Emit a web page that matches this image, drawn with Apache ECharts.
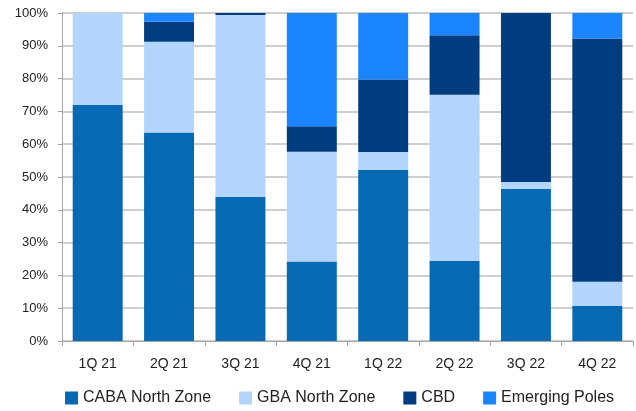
<!DOCTYPE html>
<html>
<head>
    <meta charset="utf-8">
    <script src="https://cdn.jsdelivr.net/npm/echarts@6/dist/echarts.min.js"></script>
    <style>
        html, body { margin: 0; padding: 0; background: #fff; }
        #chart { width: 636px; height: 411px; }
    </style>
</head>
<body>
<div id="chart"></div>
<script type="text/javascript">
    // categories
    var quarters = ['1Q 21', '2Q 21', '3Q 21', '4Q 21', '1Q 22', '2Q 22', '3Q 22', '4Q 22'];

    // shares (%) per segment
    var cabaNorth = [72.0, 63.6, 44.0, 24.2, 52.1, 24.4, 46.4, 10.7];
    var gbaNorth = [28.0, 27.6, 55.4, 33.5, 5.5, 50.7, 2.1, 7.4];
    var cbd = [0, 6.1, 0.6, 7.8, 22.1, 18.1, 51.5, 74.1];
    var emergingPoles = [0, 2.7, 0, 34.5, 20.3, 6.8, 0, 7.8];

    var yTicks = [0, 10, 20, 30, 40, 50, 60, 70, 80, 90, 100];

    var fontName = 'Liberation Sans';

    function makeSeries(name, data, color) {
        return {
            name: name,
            type: 'bar',
            stack: 'total',
            data: data,
            barCategoryGap: '30%',
            itemStyle: { color: color },
            emphasis: { disabled: true }
        };
    }

    var chart = echarts.init(document.getElementById('chart'));
    var option = {
        animation: false,
        textStyle: { fontFamily: fontName },
        grid: {
            left: 62,
            right: 3,
            top: 13,
            bottom: 70
        },
        legend: {
            bottom: 0,
            left: 60,
            icon: 'rect',
            itemWidth: 13,
            itemHeight: 13,
            itemGap: 28,
            textStyle: { fontSize: 16, color: '#222', fontFamily: fontName }
        },
        xAxis: {
            type: 'category',
            data: quarters,
            axisLine: { lineStyle: { color: '#a6a6a6', width: 1 } },
            axisTick: { show: true, length: 5, lineStyle: { color: '#a6a6a6' } },
            axisLabel: { fontSize: 14, color: '#222', margin: 16 }
        },
        yAxis: {
            type: 'value',
            min: 0,
            max: 100,
            interval: 10,
            axisLine: { show: true, lineStyle: { color: '#a6a6a6' } },
            axisTick: { show: true, length: 4, lineStyle: { color: '#a6a6a6' } },
            axisLabel: {
                fontSize: 13,
                color: '#222',
                margin: 14,
                formatter: function (v) { return yTicks.indexOf(v) >= 0 ? v + '%' : ''; }
            },
            splitLine: { lineStyle: { color: '#cfcfcf', width: 2 } }
        },
        series: [
            makeSeries('CABA North Zone', cabaNorth, '#0569b3'),
            makeSeries('GBA North Zone', gbaNorth, '#b3d5fd'),
            makeSeries('CBD', cbd, '#003c80'),
            makeSeries('Emerging Poles', emergingPoles, '#1a85ff')
        ]
    };
    chart.setOption(option);
</script>
</body>
</html>
